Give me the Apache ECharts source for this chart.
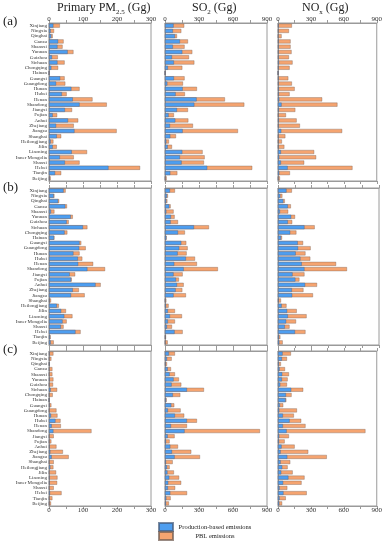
<!DOCTYPE html>
<html>
<head>
<meta charset="utf-8">
<script src="https://cdn.jsdelivr.net/npm/echarts@6/dist/echarts.min.js"></script>
<style>
  html, body { margin: 0; padding: 0; background: #fff; }
  #emissionChart { width: 385px; height: 541px; }
</style>
</head>
<body>
<div id="emissionChart"></div>
<script>
var provinces = ['Xinjiang', 'Ningxia', 'Qinghai', 'Gansu', 'Shaanxi', 'Yunnan', 'Guizhou', 'Sichuan', 'Chongqing', 'Hainan',
  'Guangxi', 'Guangdong', 'Hunan', 'Hubei', 'Henan', 'Shandong', 'Jiangxi', 'Fujian', 'Anhui', 'Zhejiang',
  'Jiangsu', 'Shanghai', 'Heilongjiang', 'Jilin', 'Liaoning', 'Inner Mongolia', 'Shanxi', 'Hebei', 'Tianjin', 'Beijing'];

// Primary PM2.5
var pmProdA = [13, 5, 7, 27, 25, 55, 9, 25, 7, 0, 33, 21, 66, 38, 70, 90, 47, 11, 56, 21, 75, 23, 5, 11, 67, 32, 47, 175, 18, 2];
var pmPblA = [32, 15, 11, 43, 40, 72, 26, 46, 27, 0, 46, 48, 90, 52, 128, 170, 68, 24, 86, 73, 199, 36, 13, 23, 112, 73, 90, 268, 36, 5];
var pmProdB = [43, 14, 27, 48, 6, 64, 52, 100, 46, 15, 90, 89, 72, 85, 86, 113, 61, 65, 137, 70, 65, 2, 23, 36, 45, 40, 35, 78, 3, 5];
var pmPblB = [49, 16, 30, 53, 16, 70, 58, 113, 54, 16, 95, 108, 90, 98, 130, 165, 77, 67, 152, 88, 105, 6, 29, 50, 69, 52, 43, 93, 5, 14];
var pmProdC = [2, 1, 1, 1, 1, 2, 1, 5, 1, 0, 2, 1, 6, 19, 8, 13, 1, 1, 2, 4, 8, 1, 4, 1, 2, 2, 1, 3, 1, 1];
var pmPblC = [13, 7, 1, 10, 10, 13, 12, 24, 11, 0, 7, 22, 25, 34, 35, 125, 14, 7, 22, 41, 58, 14, 13, 21, 25, 24, 14, 37, 10, 6];

// SO2
var so2ProdA = [76, 70, 88, 132, 70, 153, 62, 79, 26, 0, 79, 21, 156, 94, 279, 259, 106, 32, 91, 44, 156, 47, 12, 24, 153, 132, 147, 373, 47, 3];
var so2PblA = [170, 144, 106, 203, 173, 241, 212, 259, 153, 0, 173, 159, 282, 176, 529, 700, 203, 79, 206, 247, 644, 97, 35, 62, 332, 350, 344, 770, 109, 15];
var so2ProdB = [44, 18, 12, 38, 12, 53, 50, 256, 115, 12, 144, 126, 112, 185, 82, 165, 76, 97, 106, 94, 76, 3, 9, 26, 44, 26, 18, 85, 3, 3];
var so2PblB = [88, 26, 21, 50, 76, 85, 115, 388, 176, 15, 188, 200, 191, 265, 282, 467, 156, 123, 165, 153, 185, 12, 32, 88, 150, 88, 62, 156, 9, 24];
var so2ProdC = [35, 18, 6, 24, 41, 76, 59, 194, 70, 9, 56, 26, 88, 194, 53, 173, 24, 9, 47, 62, 85, 9, 18, 22, 38, 29, 26, 47, 12, 9];
var so2PblC = [88, 59, 18, 53, 88, 123, 144, 344, 135, 15, 82, 138, 170, 282, 194, 838, 85, 41, 115, 232, 309, 68, 41, 79, 125, 143, 90, 195, 50, 35];

// NOx
var noxProdA = [6, 5, 3, 6, 6, 6, 6, 9, 6, 0, 6, 6, 8, 8, 12, 33, 8, 5, 8, 6, 30, 5, 5, 5, 27, 12, 27, 88, 12, 3];
var noxPblA = [127, 100, 33, 115, 115, 124, 100, 133, 106, 0, 94, 127, 152, 106, 403, 542, 158, 73, 170, 200, 585, 67, 36, 58, 330, 348, 239, 679, 109, 18];
var noxProdB = [76, 21, 48, 88, 18, 118, 88, 236, 109, 27, 176, 179, 158, 200, 212, 236, 130, 155, 242, 124, 127, 6, 33, 82, 88, 73, 61, 152, 9, 12];
var noxPblB = [124, 39, 61, 115, 91, 152, 127, 327, 164, 36, 224, 291, 245, 288, 518, 615, 236, 191, 348, 227, 312, 27, 76, 167, 255, 161, 103, 245, 21, 42];
var noxProdC = [42, 36, 9, 15, 39, 36, 21, 121, 73, 70, 18, 12, 45, 106, 45, 79, 12, 9, 33, 24, 85, 24, 39, 30, 95, 47, 15, 50, 15, 12];
var noxPblC = [118, 82, 27, 64, 100, 88, 82, 230, 124, 76, 48, 173, 145, 212, 251, 797, 100, 61, 152, 276, 445, 112, 88, 134, 242, 215, 85, 262, 71, 38];

var panels = [
  [[pmProdA, pmPblA], [so2ProdA, so2PblA], [noxProdA, noxPblA]],
  [[pmProdB, pmPblB], [so2ProdB, so2PblB], [noxProdB, noxPblB]],
  [[pmProdC, pmPblC], [so2ProdC, so2PblC], [noxProdC, noxPblC]]
];

var font = 'Liberation Serif';
var gridLeft = [49, 165, 278];
var gridWidth = [102, 102, 101];
var gridTop = [23, 188, 351];
var gridHeight = [158, 157, 155];
var axisMax = [300, 900, 900];
var tickStep = [50, 150, 150];
var labelStep = [100, 300, 300];

var grids = [], xAxes = [], yAxes = [], series = [];

function makeXAxis(idx, pos, c, showLabel) {
  var step = labelStep[c];
  return {
    type: 'value', gridIndex: idx, position: pos,
    min: 0, max: axisMax[c], interval: tickStep[c],
    axisLine: { show: true, lineStyle: { color: '#9a9a9a', width: 1 } },
    axisTick: { show: true, length: 3, lineStyle: { color: '#9a9a9a' } },
    splitLine: { show: false },
    axisLabel: {
      show: showLabel, fontSize: 7, fontFamily: font, color: '#333', margin: pos === 'top' ? 0 : 1,
      formatter: function (v) { return v % step === 0 ? String(v) : ''; }
    }
  };
}

for (var r = 0; r < 3; r++) {
  for (var c = 0; c < 3; c++) {
    var idx = r * 3 + c;
    grids.push({
      left: gridLeft[c], top: gridTop[r], width: gridWidth[c], height: gridHeight[r],
      show: true, borderColor: '#9a9a9a', borderWidth: 1, backgroundColor: 'transparent'
    });
    xAxes.push(makeXAxis(idx, 'top', c, r === 0));
    xAxes.push(makeXAxis(idx, 'bottom', c, r === 2));
    yAxes.push({
      type: 'category', gridIndex: idx, data: provinces, inverse: true,
      axisLine: { show: true, lineStyle: { color: '#9a9a9a' } },
      axisTick: { show: false },
      axisLabel: { show: c === 0, fontSize: 5, fontFamily: font, color: '#333', margin: 2, interval: 0 }
    });
    var pair = panels[r][c];
    series.push({
      name: 'PBL emissions', type: 'bar', xAxisIndex: idx * 2 + 1, yAxisIndex: idx,
      data: pair[1], barCategoryGap: '22%', barGap: '-100%',
      itemStyle: { color: '#f5a470', borderColor: 'rgba(110,90,80,0.7)', borderWidth: 0.5 }
    });
    series.push({
      name: 'Production-based emissions', type: 'bar', xAxisIndex: idx * 2 + 1, yAxisIndex: idx,
      data: pair[0], barCategoryGap: '22%', barGap: '-100%',
      itemStyle: { color: '#4e9ef0', borderColor: 'rgba(70,90,120,0.7)', borderWidth: 0.5 }
    });
  }
}

function titleText(x, text, sub, after) {
  return {
    type: 'text', left: x, top: 2,
    style: {
      text: '{a|' + text + '}{b|' + sub + '}{a|' + after + '}',
      rich: {
        a: { fontSize: 12, fontFamily: font, fill: '#222', lineHeight: 14, verticalAlign: 'top' },
        b: { fontSize: 7, fontFamily: font, fill: '#222', lineHeight: 7, padding: [7, 0, 0, 0], verticalAlign: 'top' }
      }
    }
  };
}

function legendItem(name, top) {
  return {
    data: [name], left: 158, top: top, padding: 0,
    icon: 'rect', itemWidth: 14, itemHeight: 8,
    formatter: '{t|{name}}',
    textStyle: {
      fontSize: 6.5, fontFamily: font, color: '#222',
      rich: { t: { width: 74, align: 'center', fontSize: 6.5, fontFamily: font, color: '#222' } }
    }
  };
}

var option = {
  backgroundColor: '#fff',
  animation: false,
  grid: grids,
  xAxis: xAxes,
  yAxis: yAxes,
  series: series,
  legend: [
    legendItem('Production-based emissions', 522),
    legendItem('PBL emissions', 531)
  ],
  graphic: [
    titleText(57, 'Primary PM', '2.5', ' (Gg)'),
    titleText(192, 'SO', '2', ' (Gg)'),
    titleText(302, 'NO', 'x', ' (Gg)'),
    { type: 'text', left: 3, top: 15, style: { text: '(a)', fontSize: 13, fontFamily: font, fill: '#222' } },
    { type: 'text', left: 3, top: 181, style: { text: '(b)', fontSize: 13, fontFamily: font, fill: '#222' } },
    { type: 'text', left: 3, top: 343, style: { text: '(c)', fontSize: 13, fontFamily: font, fill: '#222' } }
  ]
};

var myChart = echarts.init(document.getElementById('emissionChart'));
myChart.setOption(option);
</script>
</body>
</html>
